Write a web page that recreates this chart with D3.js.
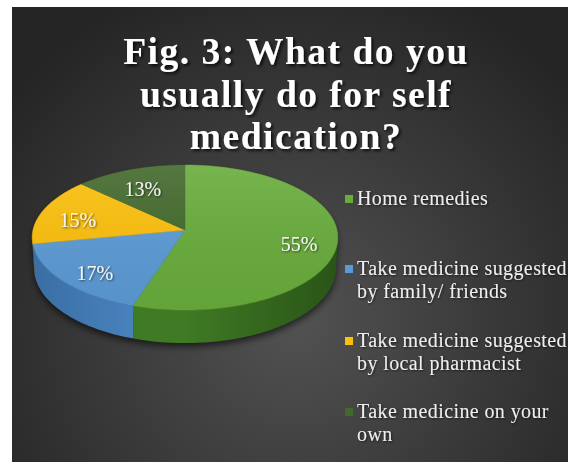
<!DOCTYPE html>
<html>
<head>
<meta charset="utf-8">
<script src="https://cdn.jsdelivr.net/npm/d3@7"></script>
<style>
  html, body { margin: 0; padding: 0; background: #ffffff; }
  svg { display: block; }
</style>
</head>
<body>
<svg id="chart" width="568" height="462"></svg>
<script>
// Survey answers and their shares (percent)
const categories = [
  "Home remedies",
  "Take medicine suggested by family/ friends",
  "Take medicine suggested by local pharmacist",
  "Take medicine on your own"
];
const shares = [55, 17, 15, 13];
const percentLabels = ["55%", "17%", "15%", "13%"];
const legendLines = [
  ["Home remedies"],
  ["Take medicine suggested", "by family/ friends"],
  ["Take medicine suggested", "by local pharmacist"],
  ["Take medicine on your", "own"]
];
const titleLines = ["Fig. 3: What do you", "usually do for self", "medication?"];

// Palette: top face, side wall (light / dark end)
const topColors = ["#68ac3b", "#5b9bd5", "#fcbf0a", "#42692b"];
const sideLight = ["#3f7a24", "#4f8cc7", "#d9a200", "#30501f"];
const sideDark = ["#2a5417", "#3a6ea5", "#b08300", "#243c17"];

const svg = d3.select("#chart");
const W = 568, H = 462;
const defs = svg.append("defs");

// Backdrop with a radial glow
const bg = defs.append("radialGradient").attr("id", "bgGlow")
  .attr("gradientUnits", "userSpaceOnUse")
  .attr("cx", 295).attr("cy", 320).attr("r", 360);
bg.append("stop").attr("offset", 0).attr("stop-color", "#525252");
bg.append("stop").attr("offset", 1).attr("stop-color", "#252525");
svg.append("rect").attr("x", 12).attr("y", 7).attr("width", W - 12).attr("height", H - 7)
  .attr("fill", "url(#bgGlow)");

// Drop shadow for text
const ts = defs.append("filter").attr("id", "textShadow")
  .attr("x", "-10%").attr("y", "-30%").attr("width", "130%").attr("height", "160%");
ts.append("feDropShadow").attr("dx", 2).attr("dy", 2).attr("stdDeviation", 1.4)
  .attr("flood-color", "#000").attr("flood-opacity", 0.75);
const ls = defs.append("filter").attr("id", "labelShadow")
  .attr("x", "-20%").attr("y", "-30%").attr("width", "140%").attr("height", "160%");
ls.append("feDropShadow").attr("dx", 1).attr("dy", 1).attr("stdDeviation", 0.8)
  .attr("flood-color", "#000").attr("flood-opacity", 0.6);
const pieShadow = defs.append("filter").attr("id", "pieShadow")
  .attr("x", "-20%").attr("y", "-20%").attr("width", "140%").attr("height", "140%");
pieShadow.append("feGaussianBlur").attr("stdDeviation", 3);

// Title
svg.append("g").attr("filter", "url(#textShadow)")
  .selectAll("text").data(titleLines).join("text")
  .attr("x", 296).attr("y", (d, i) => 64 + i * 42.5)
  .attr("text-anchor", "middle")
  .attr("font-family", "'Liberation Serif', 'Times New Roman', serif")
  .attr("font-weight", "bold").attr("font-size", 37.5)
  .attr("letter-spacing", 1.5)
  .attr("fill", "#ffffff")
  .text(d => d);

// Perspective view of a tilted disc
const view = { cx: 185, cy: 230, f: 1295, D: 8.52, tilt: Math.asin(0.472), depth: 0.232 };
function project(theta, r, y) {
  const s = Math.sin(view.tilt), c = Math.cos(view.tilt);
  const x = r * Math.sin(theta), z = r * Math.cos(theta);
  const yc = y * c + z * s, d = view.D + z * c - y * s;
  return [view.cx + view.f * x / d, view.cy - view.f * yc / d];
}
function arcPoints(a0, a1, y) {
  const n = Math.max(2, Math.ceil(Math.abs(a1 - a0) / (Math.PI / 180)));
  return d3.range(n + 1).map(i => project(a0 + (a1 - a0) * i / n, 1, y));
}
// Outer wall faces the viewer where cos(theta) < -1 / (D cos(tilt))
const edge = Math.acos(-1 / (view.D * Math.cos(view.tilt)));
const visFrom = edge, visTo = 2 * Math.PI - edge;

const pie = d3.pie().sort(null).value(d => d).startAngle(0).endAngle(2 * Math.PI);
const slices = pie(shares);
const line = d3.line();

// Soft shadow beneath the disc
const shadowPts = arcPoints(visFrom, visTo, -view.depth).map(p => [p[0], p[1] + 4])
  .concat(arcPoints(visTo, visFrom + 2 * Math.PI, 0).map(p => [p[0], p[1] + 4]));
svg.append("path").attr("d", line(shadowPts) + "Z")
  .attr("fill", "#000").attr("opacity", 0.55).attr("filter", "url(#pieShadow)");

const pieG = svg.append("g");

// Side walls
slices.forEach((s, i) => {
  const a0 = Math.max(s.startAngle, visFrom), a1 = Math.min(s.endAngle, visTo);
  if (a1 <= a0) return;
  const gid = "side" + i;
  const g = defs.append("linearGradient").attr("id", gid)
    .attr("gradientUnits", "userSpaceOnUse")
    .attr("x1", view.cx).attr("y1", 0)
    .attr("x2", (a0 + a1) / 2 < Math.PI ? view.cx + 152 : view.cx - 152).attr("y2", 0);
  g.append("stop").attr("offset", 0).attr("stop-color", sideLight[i]);
  g.append("stop").attr("offset", 1).attr("stop-color", sideDark[i]);
  const pts = arcPoints(a0, a1, 0).concat(arcPoints(a1, a0, -view.depth));
  pieG.append("path").attr("d", line(pts) + "Z").attr("fill", `url(#${gid})`);
});

// Top faces
const topShade = defs.append("linearGradient").attr("id", "topShade")
  .attr("x1", 0).attr("y1", 0).attr("x2", 0).attr("y2", 1);
topShade.append("stop").attr("offset", 0).attr("stop-color", "#fff").attr("stop-opacity", 0.10);
topShade.append("stop").attr("offset", 1).attr("stop-color", "#000").attr("stop-opacity", 0.05);

slices.forEach((s, i) => {
  const pts = [project(0, 0, 0)].concat(arcPoints(s.startAngle, s.endAngle, 0));
  pieG.append("path").attr("d", line(pts) + "Z")
    .attr("fill", topColors[i]).attr("stroke", topColors[i]).attr("stroke-width", 0.5);
});
pieG.append("path")
  .attr("d", line(arcPoints(0, 2 * Math.PI, 0)) + "Z")
  .attr("fill", "url(#topShade)");

// Percent labels
svg.append("g").attr("filter", "url(#labelShadow)")
  .selectAll("text").data(slices).join("text")
  .attr("x", d => project((d.startAngle + d.endAngle) / 2, 0.75, 0)[0])
  .attr("y", d => project((d.startAngle + d.endAngle) / 2, 0.75, 0)[1] + 12)
  .attr("text-anchor", "middle")
  .attr("font-family", "'Liberation Serif', 'Times New Roman', serif")
  .attr("font-size", 20)
  .attr("fill", "#f4f4f4")
  .text((d, i) => percentLabels[i]);

// Legend
const legendTop = [205, 275, 347, 418];
const legend = svg.append("g");
categories.forEach((c, i) => {
  legend.append("rect").attr("x", 345).attr("y", legendTop[i] - 10)
    .attr("width", 8).attr("height", 8).attr("fill", topColors[i]);
  legend.append("text")
    .attr("filter", "url(#labelShadow)")
    .attr("font-family", "'Liberation Serif', 'Times New Roman', serif")
    .attr("font-size", 20).attr("letter-spacing", 0.4).attr("fill", "#eeeeee")
    .selectAll("tspan").data(legendLines[i]).join("tspan")
    .attr("x", 357).attr("y", (d, j) => legendTop[i] + j * 23)
    .text(d => d);
});
</script>
</body>
</html>
